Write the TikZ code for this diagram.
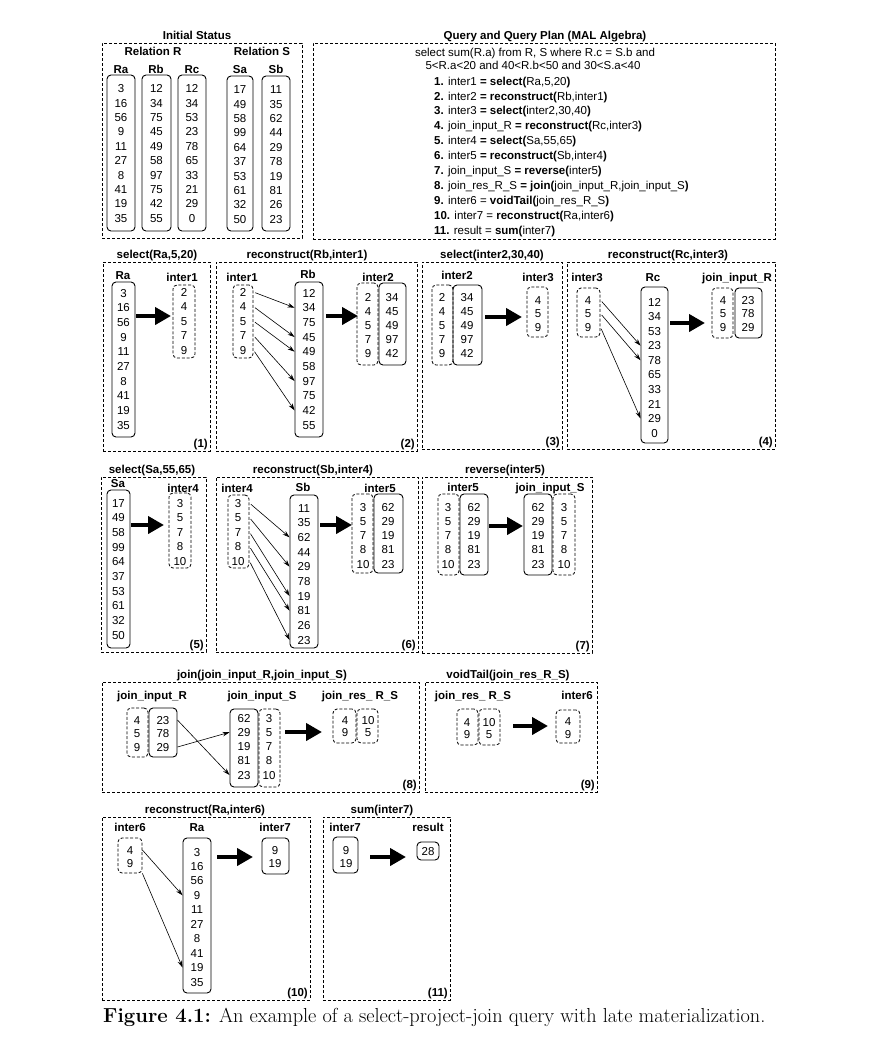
\documentclass[tikz,border=0pt]{standalone}
\usepackage{fontspec}
\newfontfamily\diagfont{Liberation Sans}
\usetikzlibrary{arrows.meta}

\tikzset{
  every node/.style={font=\diagfont\fontsize{11.5}{13}\selectfont},
  panelbox/.style={draw, dash pattern=on 3pt off 2pt, line width=0.8pt, inner sep=0pt},
  solidcol/.style={draw, rounded corners=4pt, line width=0.9pt, inner sep=0pt},
  dashcol/.style={draw, rounded corners=4pt, dash pattern=on 3pt off 1.8pt, line width=0.8pt, inner sep=0pt},
  val/.style={inner sep=0pt, text height=8.2pt, text depth=0pt},
  hdr/.style={val, font=\diagfont\bfseries\fontsize{11.5}{13}\selectfont},
  ptitle/.style={anchor=base, inner sep=0pt, font=\diagfont\bfseries\fontsize{11.5}{13}\selectfont},
  pnum/.style={anchor=base east, inner sep=0pt, font=\diagfont\bfseries\fontsize{11.5}{13}\selectfont},
  ptr/.style={-{Stealth[length=7pt,width=4.5pt]}, line width=0.6pt, shorten <=2pt},
  bigarrow/.style={-{Triangle[length=16pt,width=17pt]}, line width=4.5pt}
}

\newcommand{\frm}[6]{%
  \node[#2, minimum width={(#5)-(#3)}, minimum height={(#6)-(#4)}] (#1) at ({((#3)+(#5))/2},{((#4)+(#6))/2}) {};}
\newcommand{\vals}[5]{%
  \foreach \cv [count=\ci] in {#5} \node[val] (#1-\ci) at (#2,{#3+(\ci-1)*(#4)}) {\cv};}
\newcommand{\panel}[8]{%
  \frm{#1}{panelbox}{#2}{#3}{#4}{#5}
  \node[ptitle] (#1-t) at (#6,{#3-4}) {#7};
  \node[pnum] (#1-n) at ({#4-2},{#5-4}) {#8};}

\begin{document}
\begin{tikzpicture}[x=1pt, y=-1pt]
  \useasboundingbox (0,0) rectangle (896,1045);

  \frm{init}{panelbox}{102}{43}{302}{238}
  \node[ptitle] (init-t) at (197,39) {Initial Status};
  \node[hdr] (relR) at (153,51) {Relation R};
  \node[hdr] (relS) at (262,51) {Relation S};
  \node[hdr] (hiRa) at (121,69) {Ra};
  \node[hdr] (hiRb) at (156,69) {Rb};
  \node[hdr] (hiRc) at (192,69) {Rc};
  \node[hdr] (hiSa) at (240,69) {Sa};
  \node[hdr] (hiSb) at (276,69) {Sb};
  \frm{iRa}{solidcol}{107}{75}{135}{231} \vals{iRa}{121}{88.5}{14.4}{3,16,56,9,11,27,8,41,19,35}
  \frm{iRb}{solidcol}{142}{75}{171}{231} \vals{iRb}{156.5}{88.5}{14.4}{12,34,75,45,49,58,97,75,42,55}
  \frm{iRc}{solidcol}{178}{75}{206}{231} \vals{iRc}{192}{88.5}{14.4}{12,34,53,23,78,65,33,21,29,0}
  \frm{iSa}{solidcol}{227}{76}{253}{231} \vals{iSa}{240}{89.5}{14.4}{17,49,58,99,64,37,53,61,32,50}
  \frm{iSb}{solidcol}{262}{76}{290}{231} \vals{iSb}{276}{89.5}{14.4}{11,35,62,44,29,78,19,81,26,23}

  \frm{qp}{panelbox}{313}{43}{775}{239}
  \node[ptitle] (qp-t) at (545,39) {Query and Query Plan (MAL Algebra)};
  \node[val] (sql1) at (535,52) {select sum(R.a) from R, S where R.c = S.b and};
  \node[val] (sql2) at (533,65) {5<R.a<20 and 40<R.b<50 and 30<S.a<40};
  \foreach \ln [count=\li] in {
      {\textbf{1.} inter1 \textbf{= select(}Ra,5,20\textbf{)}},
      {\textbf{2.} inter2 \textbf{= reconstruct(}Rb,inter1\textbf{)}},
      {\textbf{3.} inter3 \textbf{= select(}inter2,30,40\textbf{)}},
      {\textbf{4.} join\_input\_R \textbf{= reconstruct(}Rc,inter3\textbf{)}},
      {\textbf{5.} inter4 \textbf{= select(}Sa,55,65\textbf{)}},
      {\textbf{6.} inter5 \textbf{= reconstruct(}Sb,inter4\textbf{)}},
      {\textbf{7.} join\_input\_S \textbf{= reverse(}inter5\textbf{)}},
      {\textbf{8.} join\_res\_R\_S \textbf{= join(}join\_input\_R,join\_input\_S\textbf{)}},
      {\textbf{9.} inter6 = \textbf{voidTail(}join\_res\_R\_S\textbf{)}},
      {\textbf{10.} inter7 = \textbf{reconstruct(}Ra,inter6\textbf{)}},
      {\textbf{11.} result = \textbf{sum(}inter7\textbf{)}}}
    \node[val, anchor=west] (plan-\li) at (434,{81+(\li-1)*14.9}) {\ln};

  \panel{P1}{103}{262}{210}{451}{157}{select(Ra,5,20)}{(1)}
  \node[hdr] (h1Ra) at (123,275) {Ra};
  \node[hdr] (h1i1) at (182,277) {inter1};
  \frm{p1Ra}{solidcol}{112}{282}{135}{437} \vals{p1Ra}{123.5}{293}{14.67}{3,16,56,9,11,27,8,41,19,35}
  \frm{p1i1}{dashcol}{173}{285}{195}{358} \vals{p1i1}{184}{292}{14.5}{2,4,5,7,9}
  \coordinate (p1a) at (136,316); \coordinate (p1b) at (171,316);
  \draw[bigarrow] (p1a) -- (p1b);

  \panel{P2}{216}{262}{417}{451}{307}{reconstruct(Rb,inter1)}{(2)}
  \node[hdr] (h2i1) at (242,277) {inter1};
  \node[hdr] (h2Rb) at (308,274) {Rb};
  \node[hdr] (h2i2) at (378,277) {inter2};
  \frm{p2i1}{dashcol}{233}{285}{253}{358} \vals{p2i1}{243}{292}{14.5}{2,4,5,7,9}
  \frm{p2Rb}{solidcol}{295}{282}{323}{437} \vals{p2Rb}{309}{293}{14.67}{12,34,75,45,49,58,97,75,42,55}
  \foreach \s/\t in {1/2,2/4,3/5,4/7,5/9}
    \draw[ptr] (p2i1-\s -| p2i1.east) -- (p2Rb-\t -| p2Rb.west);
  \coordinate (p2a) at (326,316); \coordinate (p2b) at (358,316);
  \draw[bigarrow] (p2a) -- (p2b);
  \frm{p2i2h}{dashcol}{357}{283}{378}{365} \vals{p2i2h}{368}{297}{14}{2,4,5,7,9}
  \frm{p2i2t}{solidcol}{379}{283}{406}{365} \vals{p2i2t}{392}{297}{14}{34,45,49,97,42}

  \panel{P3}{422}{262}{562}{449}{492}{select(inter2,30,40)}{(3)}
  \node[hdr] (h3i2) at (457,275) {inter2};
  \node[hdr] (h3i3) at (538,277) {inter3};
  \frm{p3i2h}{dashcol}{432}{285}{453}{365} \vals{p3i2h}{442}{297}{14}{2,4,5,7,9}
  \frm{p3i2t}{solidcol}{453}{285}{482}{365} \vals{p3i2t}{467}{297}{14}{34,45,49,97,42}
  \coordinate (p3a) at (485,317); \coordinate (p3b) at (522,317);
  \draw[bigarrow] (p3a) -- (p3b);
  \frm{p3i3}{dashcol}{527}{287}{548}{337} \vals{p3i3}{538}{300}{13.5}{4,5,9}

  \panel{P4}{567}{262}{775}{449}{668}{reconstruct(Rc,inter3)}{(4)}
  \node[hdr] (h4i3) at (587,277) {inter3};
  \node[hdr] (h4Rc) at (653,277) {Rc};
  \node[hdr] (h4jR) at (737,277) {join\_input\_R};
  \frm{p4i3}{dashcol}{577}{288}{600}{337} \vals{p4i3}{588}{300}{13.5}{4,5,9}
  \frm{p4Rc}{solidcol}{641}{287}{668}{443} \vals{p4Rc}{654.5}{302}{14.56}{12,34,53,23,78,65,33,21,29,0}
  \foreach \s/\t in {1/4,2/5,3/9}
    \draw[ptr] (p4i3-\s -| p4i3.east) -- (p4Rc-\t -| p4Rc.west);
  \coordinate (p4a) at (670,323); \coordinate (p4b) at (705,323);
  \draw[bigarrow] (p4a) -- (p4b);
  \frm{p4jRh}{dashcol}{712}{288}{733}{338} \vals{p4jRh}{723}{300}{13.5}{4,5,9}
  \frm{p4jRt}{solidcol}{735}{288}{762}{338} \vals{p4jRt}{748}{300}{13.5}{23,78,29}

  \panel{P5}{101}{477}{206}{652}{152}{select(Sa,55,65)}{(5)}
  \node[hdr] (h5Sa) at (118,483) {Sa};
  \node[hdr] (h5i4) at (183,488) {inter4};
  \frm{p5Sa}{solidcol}{107}{490}{130}{648} \vals{p5Sa}{118.5}{503}{14.67}{17,49,58,99,64,37,53,61,32,50}
  \frm{p5i4}{dashcol}{169}{493}{191}{568} \vals{p5i4}{180}{503}{14.5}{3,5,7,8,10}
  \coordinate (p5a) at (131,525); \coordinate (p5b) at (164,525);
  \draw[bigarrow] (p5a) -- (p5b);

  \panel{P6}{216}{477}{418}{652}{313}{reconstruct(Sb,inter4)}{(6)}
  \node[hdr] (h6i4) at (237,488) {inter4};
  \node[hdr] (h6Sb) at (303,487) {Sb};
  \node[hdr] (h6i5) at (380,488) {inter5};
  \frm{p6i4}{dashcol}{228}{495}{249}{568} \vals{p6i4}{238}{503}{14.5}{3,5,7,8,10}
  \frm{p6Sb}{solidcol}{290}{495}{318}{648} \vals{p6Sb}{304}{508}{14.67}{11,35,62,44,29,78,19,81,26,23}
  \foreach \s/\t in {1/3,2/5,3/7,4/8,5/10}
    \draw[ptr] (p6i4-\s -| p6i4.east) -- (p6Sb-\t -| p6Sb.west);
  \coordinate (p6a) at (320,525); \coordinate (p6b) at (352,525);
  \draw[bigarrow] (p6a) -- (p6b);
  \frm{p6i5h}{dashcol}{352}{494}{373}{573} \vals{p6i5h}{363}{507}{14.25}{3,5,7,8,10}
  \frm{p6i5t}{solidcol}{374}{494}{403}{573} \vals{p6i5t}{388}{507}{14.25}{62,29,19,81,23}

  \panel{P7}{422}{477}{592}{653}{505}{reverse(inter5)}{(7)}
  \node[hdr] (h7i5) at (463,487) {inter5};
  \node[hdr] (h7jS) at (550,487) {join\_input\_S};
  \frm{p7i5h}{dashcol}{438}{494}{459}{575} \vals{p7i5h}{448}{507}{14.25}{3,5,7,8,10}
  \frm{p7i5t}{solidcol}{460}{494}{488}{575} \vals{p7i5t}{474}{507}{14.25}{62,29,19,81,23}
  \coordinate (p7a) at (489,526); \coordinate (p7b) at (523,526);
  \draw[bigarrow] (p7a) -- (p7b);
  \frm{p7jSh}{solidcol}{524}{494}{552}{575} \vals{p7jSh}{538}{507}{14.25}{62,29,19,81,23}
  \frm{p7jSt}{dashcol}{553}{494}{575}{575} \vals{p7jSt}{564}{507}{14.25}{3,5,7,8,10}

  \panel{P8}{102}{682}{419}{792}{262}{join(join\_input\_R,join\_input\_S)}{(8)}
  \node[hdr] (h8jR) at (152,695) {join\_input\_R};
  \node[hdr] (h8jS) at (262,695) {join\_input\_S};
  \node[hdr] (h8jr) at (360,695) {join\_res\_ R\_S};
  \frm{p8jRh}{dashcol}{127}{708}{148}{757} \vals{p8jRh}{137}{720}{13.5}{4,5,9}
  \frm{p8jRt}{solidcol}{149}{708}{177}{757} \vals{p8jRt}{163}{720}{13.5}{23,78,29}
  \frm{p8jSh}{solidcol}{230}{709}{258}{787} \vals{p8jSh}{244}{718}{14.25}{62,29,19,81,23}
  \frm{p8jSt}{dashcol}{259}{709}{280}{787} \vals{p8jSt}{269}{718}{14.25}{3,5,7,8,10}
  \draw[ptr, shorten <=0pt] (p8jRt-1 -| p8jRt.east) -- (p8jSh-5 -| p8jSh.west);
  \draw[ptr, shorten <=0pt] (p8jRt-3 -| p8jRt.east) -- (p8jSh-2 -| p8jSh.west);
  \coordinate (p8a) at (285,732); \coordinate (p8b) at (322,732);
  \draw[bigarrow] (p8a) -- (p8b);
  \frm{p8jrh}{dashcol}{333}{709}{356}{743} \vals{p8jrh}{345}{720}{12}{4,9}
  \frm{p8jrt}{dashcol}{357}{709}{378}{743} \vals{p8jrt}{368}{720}{12}{10,5}

  \panel{P9}{425}{682}{597}{792}{508}{voidTail(join\_res\_R\_S)}{(9)}
  \node[hdr] (h9jr) at (473,695) {join\_res\_ R\_S};
  \node[hdr] (h9i6) at (577,695) {inter6};
  \frm{p9jrh}{dashcol}{457}{709}{478}{745} \vals{p9jrh}{467}{722}{12}{4,9}
  \frm{p9jrt}{dashcol}{479}{709}{500}{745} \vals{p9jrt}{489}{722}{12}{10,5}
  \coordinate (p9a) at (513,726); \coordinate (p9b) at (548,726);
  \draw[bigarrow] (p9a) -- (p9b);
  \frm{p9i6}{dashcol}{556}{710}{580}{743} \vals{p9i6}{568}{721}{13}{4,9}

  \panel{P10}{102}{817}{310}{1000}{205}{reconstruct(Ra,inter6)}{(10)}
  \node[hdr] (h10i6) at (130,827) {inter6};
  \node[hdr] (h10Ra) at (197,827) {Ra};
  \node[hdr] (h10i7) at (275,827) {inter7};
  \frm{p10i6}{dashcol}{118}{838}{142}{873} \vals{p10i6}{130}{850}{13}{4,9}
  \frm{p10Ra}{solidcol}{183}{838}{211}{993} \vals{p10Ra}{197}{852}{14.44}{3,16,56,9,11,27,8,41,19,35}
  \draw[ptr, shorten <=0pt] (p10i6-1 -| p10i6.east) -- (p10Ra-4 -| p10Ra.west);
  \draw[ptr, shorten <=0pt] (p10i6.south east) -- (p10Ra-9 -| p10Ra.west);
  \coordinate (p10a) at (217,857); \coordinate (p10b) at (253,857);
  \draw[bigarrow] (p10a) -- (p10b);
  \frm{p10i7}{solidcol}{262}{838}{289}{874} \vals{p10i7}{275}{850}{13}{9,19}

  \panel{P11}{323}{817}{450}{1000}{382}{sum(inter7)}{(11)}
  \node[hdr] (h11i7) at (345,827) {inter7};
  \node[hdr] (h11res) at (428,827) {result};
  \frm{p11i7}{solidcol}{333}{837}{358}{873} \vals{p11i7}{346}{850}{13}{9,19}
  \coordinate (p11a) at (370,857); \coordinate (p11b) at (406,857);
  \draw[bigarrow] (p11a) -- (p11b);
  \frm{p11res}{solidcol}{417}{842}{439}{860} \vals{p11res}{428}{851}{0}{28}

  \node[anchor=base west, inner sep=0pt, font=\rmfamily\fontsize{20.3}{24}\selectfont] (caption) at (103,1022)
    {\textbf{Figure 4.1:} An example of a select-project-join query with late materialization.};
\end{tikzpicture}
\end{document}
